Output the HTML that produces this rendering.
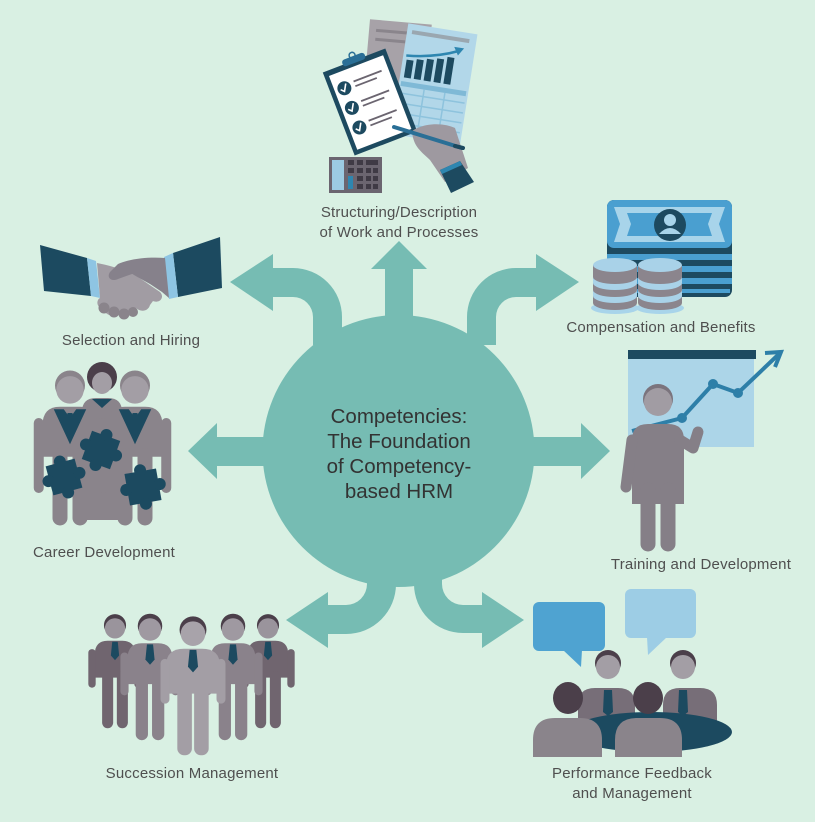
<!DOCTYPE html>
<html><head><meta charset="utf-8"><style>
html,body{margin:0;padding:0;background:#d9f0e3;}
svg{display:block;}
text{font-family:"Liberation Sans",sans-serif;}
</style></head><body>
<svg width="815" height="822" viewBox="0 0 815 822" xmlns="http://www.w3.org/2000/svg">
<rect width="815" height="822" fill="#d9f0e3"/>

<!-- ARROWS -->
<g fill="#76bcb3">
<polygon points="385,330 385,269 371,269 399,241 427,269 413,269 413,330"/>
<polygon points="270,437 217,437 217,423 188,451 217,479 217,466 270,466"/>
<polygon points="528,437 581,437 581,423 610,451 581,479 581,466 528,466"/>
<path d="M313 345 L313 317 A20 20 0 0 0 293 297 L273 297 L273 311 L230 282 L273 254 L273 268 L293 268 A49 49 0 0 1 342 317 L342 345 Z"/>
<path d="M467 345 L467 317 A49 49 0 0 1 516 268 L536 268 L536 254 L579 282 L536 311 L536 297 L516 297 A20 20 0 0 0 496 317 L496 345 Z"/>
<path d="M367 565 L367 584 A21 21 0 0 1 346 605 L328 605 L328 592 L286 620 L328 648 L328 634 L346 634 A50 50 0 0 0 396 584 L396 565 Z"/>
<path d="M414 565 L414 584 A49 49 0 0 0 463 633 L482 633 L482 648 L524 620 L482 592 L482 605 L463 605 A21 21 0 0 1 442 584 L442 565 Z"/>
<circle cx="398.5" cy="451" r="136"/>
</g>
<g font-size="20.5" fill="#333" text-anchor="middle">
<text x="399" y="423">Competencies:</text>
<text x="399" y="448">The Foundation</text>
<text x="399" y="473">of Competency-</text>
<text x="399" y="498">based HRM</text>
</g>

<!-- LABELS -->
<g font-size="15" fill="#4f4f4f" text-anchor="middle" letter-spacing="0.2">
<text x="399" y="217">Structuring/Description</text>
<text x="399" y="237">of Work and Processes</text>
<text x="661" y="332">Compensation and Benefits</text>
<text x="131" y="345">Selection and Hiring</text>
<text x="104" y="557">Career Development</text>
<text x="701" y="569">Training and Development</text>
<text x="192" y="778">Succession Management</text>
<text x="632" y="778">Performance Feedback</text>
<text x="632" y="798">and Management</text>
</g>

<!-- TOP ICON: Structuring -->
<g transform="rotate(5 400 55)">
<rect x="367" y="22" width="62" height="75" fill="#a7a2a8"/>
<rect x="374" y="31" width="40" height="3" fill="#8a858c"/>
<rect x="374" y="40" width="30" height="3" fill="#8a858c"/>
</g>
<g transform="rotate(9 433 85)">
<rect x="399" y="28" width="70" height="112" fill="#b2d7e9"/>
<rect x="404" y="34" width="58" height="4" fill="#9aa7b0"/>
<rect x="403" y="64" width="7" height="18" fill="#1d4a60"/>
<rect x="413" y="62" width="7" height="20" fill="#1d4a60"/>
<rect x="423" y="60" width="7" height="22" fill="#1d4a60"/>
<rect x="433" y="58" width="7" height="24" fill="#1d4a60"/>
<rect x="443" y="55" width="7" height="27" fill="#1d4a60"/>
<path d="M402 60 Q430 58 454 47" stroke="#2e86b0" stroke-width="2.5" fill="none"/>
<polygon points="458,44 448,44 453,52" fill="#2e86b0"/>
<rect x="401" y="86" width="66" height="5" fill="#7fb9d6"/>
<g stroke="#8ec3dd" stroke-width="1.5">
<line x1="401" y1="98" x2="467" y2="98"/><line x1="401" y1="108" x2="467" y2="108"/><line x1="401" y1="118" x2="467" y2="118"/><line x1="401" y1="128" x2="467" y2="128"/>
<line x1="425" y1="91" x2="425" y2="138"/><line x1="446" y1="91" x2="446" y2="138"/>
</g>
</g>
<g transform="rotate(-21 370 102)">
<rect x="336.5" y="57.5" width="67" height="89" fill="#1d4a60"/>
<rect x="341" y="63" width="58" height="79" fill="#ffffff"/>
<rect x="358" y="53" width="24" height="7" rx="3" fill="#2a6f96"/>
<circle cx="370" cy="52" r="3" fill="none" stroke="#2a6f96" stroke-width="1.5"/>
<circle cx="351" cy="80" r="7" fill="#1d4a60"/><circle cx="351" cy="101" r="7" fill="#1d4a60"/><circle cx="351" cy="122" r="7" fill="#1d4a60"/>
<g stroke="#fff" stroke-width="1.6" fill="none"><path d="M347 80 l3 3 l4 -7"/><path d="M347 101 l3 3 l4 -7"/><path d="M347 122 l3 3 l4 -7"/></g>
<g stroke="#6b6570" stroke-width="1.8"><line x1="362" y1="77" x2="392" y2="77"/><line x1="362" y1="82" x2="385" y2="82"/><line x1="362" y1="98" x2="392" y2="98"/><line x1="362" y1="103" x2="385" y2="103"/><line x1="362" y1="119" x2="392" y2="119"/><line x1="362" y1="124" x2="385" y2="124"/></g>
</g>
<path d="M412 131 C425 122 445 123 455 128 L468 168 L445 182 L430 160 C422 152 413 147 412 131 Z" fill="#9e99a0"/>
<line x1="394" y1="127" x2="462" y2="148" stroke="#2a6f96" stroke-width="4" stroke-linecap="round"/>
<line x1="455" y1="146" x2="463" y2="148" stroke="#1d4a60" stroke-width="4" stroke-linecap="round"/>
<polygon points="440,170 460,161 474,182 451,193" fill="#1d4a60"/>
<polygon points="440,170 460,161 462,165 442,174" fill="#2e86b0"/>
<rect x="329" y="157" width="53" height="36" fill="#6b6570"/>
<rect x="332" y="160" width="12" height="30" fill="#9ccbe3"/>
<g fill="#3f3a45">
<rect x="348" y="160" width="6" height="5"/><rect x="357" y="160" width="6" height="5"/><rect x="366" y="160" width="12" height="5"/>
<rect x="348" y="168" width="6" height="5"/><rect x="357" y="168" width="6" height="5"/><rect x="366" y="168" width="5" height="5"/><rect x="373" y="168" width="5" height="5"/>
<rect x="357" y="176" width="6" height="5"/><rect x="366" y="176" width="5" height="5"/><rect x="373" y="176" width="5" height="5"/>
<rect x="357" y="184" width="6" height="5"/><rect x="366" y="184" width="5" height="5"/><rect x="373" y="184" width="5" height="5"/>
</g>
<rect x="348" y="176" width="5" height="13" fill="#2e86b0"/>

<!-- HANDSHAKE -->
<polygon points="40,245 87,258 91,296 44,291" fill="#1c4a60"/>
<polygon points="87,258 96,261 100,298 91,296" fill="#8ec5e3"/>
<polygon points="173,253 220,237 222,288 178,297" fill="#1c4a60"/>
<polygon points="164,257 173,253 178,297 169,299" fill="#8ec5e3"/>
<path d="M97 263 C112 266 125 270 138 277 L160 292 C165 297 160 304 153 301 L150 305 C148 312 140 312 136 308 C132 316 124 318 120 314 C112 318 104 314 104 309 C96 308 96 300 100 298 Z" fill="#a19ca3"/>
<path d="M165 258 C150 257 132 258 118 264 L110 272 C106 278 112 282 118 279 L132 274 L150 284 L162 292 L169 298 Z" fill="#86818b"/>
<g fill="#8a848b"><circle cx="104" cy="308" r="5.5"/><circle cx="114" cy="312" r="5.5"/><circle cx="124" cy="314" r="5.5"/><circle cx="133" cy="312" r="5"/></g>

<!-- COMPENSATION -->
<rect x="607" y="200" width="125" height="97" rx="7" fill="#1d4a60"/>
<g fill="#4a9fd0">
<rect x="607" y="254" width="125" height="6"/>
<rect x="607" y="266" width="125" height="6"/>
<rect x="607" y="278" width="125" height="6"/>
<rect x="609" y="289" width="121" height="4"/>
</g>
<rect x="607" y="200" width="125" height="48" rx="7" fill="#4a9fd0"/>
<path d="M614 207 H725 L719 224 L725 242 H614 L620 224 Z" fill="#a8d4ea"/>
<path d="M627 213 H712 L708 224 L712 236 H627 L631 224 Z" fill="#4a9fd0"/>
<circle cx="670" cy="225" r="16" fill="#1d4a60"/>
<circle cx="670" cy="220" r="6" fill="#a8d4ea"/>
<path d="M659 234 Q670 222 681 234 Z" fill="#a8d4ea"/>
<g>
<ellipse cx="615" cy="308" rx="24" ry="6" fill="#a8d4ea"/>
<path d="M593 265 V303 A22 7 0 0 0 637 303 V265 Z" fill="#8b858d"/>
<path d="M593 277 A22 7 0 0 0 637 277 V283 A22 7 0 0 1 593 283 Z" fill="#a9d2e8"/>
<path d="M593 290 A22 7 0 0 0 637 290 V296 A22 7 0 0 1 593 296 Z" fill="#a9d2e8"/>
<ellipse cx="615" cy="265" rx="22" ry="7" fill="#a9d2e8"/>
<ellipse cx="660" cy="308" rx="24" ry="6" fill="#a8d4ea"/>
<path d="M638 265 V303 A22 7 0 0 0 682 303 V265 Z" fill="#8b858d"/>
<path d="M638 277 A22 7 0 0 0 682 277 V283 A22 7 0 0 1 638 283 Z" fill="#a9d2e8"/>
<path d="M638 290 A22 7 0 0 0 682 290 V296 A22 7 0 0 1 638 296 Z" fill="#a9d2e8"/>
<ellipse cx="660" cy="265" rx="22" ry="7" fill="#a9d2e8"/>
</g>

<!-- TRAINING -->
<rect x="628" y="350" width="128" height="9" fill="#1d4a60"/>
<rect x="628" y="359" width="126" height="88" fill="#acd5e8"/>
<polyline points="632,431 682,418 713,384 738,393 779,354" fill="none" stroke="#2e7fa8" stroke-width="4"/>
<polyline points="765,353 781,352 775,367" fill="none" stroke="#2e7fa8" stroke-width="4"/>
<g fill="#2e7fa8"><circle cx="682" cy="418" r="5"/><circle cx="713" cy="384" r="5"/><circle cx="738" cy="393" r="5"/></g>
<g fill="#857f87" stroke="#857f87" stroke-linecap="round">
<path d="M632 504 V440 Q632 424 648 424 H668 Q684 424 684 440 V504 Z" stroke="none"/>
<line x1="632" y1="440" x2="626" y2="487" stroke-width="11"/>
<polyline points="680,440 693,448 698,432" fill="none" stroke-width="11" stroke-linejoin="round"/>
<line x1="648" y1="490" x2="648" y2="544" stroke-width="15"/>
<line x1="668" y1="490" x2="668" y2="544" stroke-width="15"/>
</g>
<circle cx="658" cy="399" r="15" fill="#7b747d"/>
<circle cx="658" cy="402" r="14" fill="#a19ca3"/>

<!-- CAREER -->
<g>
<path d="M82 520 V412 Q82 398 96 398 H108 Q122 398 122 412 V520 Z" fill="#8a848b"/>
<circle cx="102" cy="377" r="15" fill="#4b3f4a"/>
<ellipse cx="102" cy="383" rx="10" ry="11" fill="#a39ea5"/>
<polygon points="92,399 102,408 112,399" fill="#1c4a60"/>
<g transform="translate(70,388) scale(1.25)">
<circle cy="-2" r="12" fill="#8a848b"/><circle cy="1.5" r="11" fill="#a39ea5"/>
<path d="M-22 55 V30 Q-22 15 -8 15 H8 Q22 15 22 30 V55 Z" fill="#8a848b"/>
<path d="M-25 28 V80" stroke="#8a848b" stroke-width="8" stroke-linecap="round"/>
<path d="M25 28 V80" stroke="#8a848b" stroke-width="8" stroke-linecap="round"/>
<rect x="-14" y="48" width="12" height="62" rx="6" fill="#8a848b"/>
<rect x="2" y="48" width="12" height="62" rx="6" fill="#8a848b"/>
<path d="M-13 17 L0 45 L13 17 L5 17 L0 24 L-5 17 Z" fill="#1c4a60"/>
<path d="M-2 20 H2 L3 34 L0 38 L-3 34 Z" fill="#1c4a60"/>
</g>
<g transform="translate(135,388) scale(1.25)">
<circle cy="-2" r="12" fill="#8a848b"/><circle cy="1.5" r="11" fill="#a39ea5"/>
<path d="M-22 55 V30 Q-22 15 -8 15 H8 Q22 15 22 30 V55 Z" fill="#8a848b"/>
<path d="M-25 28 V80" stroke="#8a848b" stroke-width="8" stroke-linecap="round"/>
<path d="M25 28 V80" stroke="#8a848b" stroke-width="8" stroke-linecap="round"/>
<rect x="-14" y="48" width="12" height="62" rx="6" fill="#8a848b"/>
<rect x="2" y="48" width="12" height="62" rx="6" fill="#8a848b"/>
<path d="M-13 17 L0 45 L13 17 L5 17 L0 24 L-5 17 Z" fill="#1c4a60"/>
<path d="M-2 20 H2 L3 34 L0 38 L-3 34 Z" fill="#1c4a60"/>
</g>
<g fill="#1c4a60">
<g transform="rotate(-15 64 477)"><rect x="49" y="462" width="30" height="30"/><circle cx="64" cy="461" r="6"/><circle cx="80" cy="477" r="6"/><circle cx="48" cy="477" r="6"/><circle cx="64" cy="493" r="6"/></g>
<g transform="rotate(20 101 450)"><rect x="86" y="435" width="30" height="30"/><circle cx="101" cy="434" r="6"/><circle cx="117" cy="450" r="6"/><circle cx="85" cy="450" r="6"/><circle cx="101" cy="466" r="6"/></g>
<g transform="rotate(-10 143 487)"><rect x="127" y="471" width="32" height="32"/><circle cx="143" cy="470" r="6"/><circle cx="160" cy="487" r="6"/><circle cx="126" cy="487" r="6"/><circle cx="143" cy="504" r="6"/></g>
</g>
</g>

<!-- SUCCESSION -->
<g transform="translate(115,627) scale(0.92)">
<circle cy="-2" r="12" fill="#4b3f4a"/><circle cy="1.5" r="11" fill="#9a949c"/>
<path d="M-22 55 V30 Q-22 15 -8 15 H8 Q22 15 22 30 V55 Z" fill="#70656f"/>
<path d="M-25 28 V62" stroke="#70656f" stroke-width="8" stroke-linecap="round"/>
<path d="M25 28 V62" stroke="#70656f" stroke-width="8" stroke-linecap="round"/>
<rect x="-14" y="48" width="12" height="62" rx="6" fill="#70656f"/><rect x="2" y="48" width="12" height="62" rx="6" fill="#70656f"/>
<path d="M-3 16 H3 L4.5 31 L0 36 L-4.5 31 Z" fill="#1c4a60"/>
</g>
<g transform="translate(268,627) scale(0.92)">
<circle cy="-2" r="12" fill="#4b3f4a"/><circle cy="1.5" r="11" fill="#9a949c"/>
<path d="M-22 55 V30 Q-22 15 -8 15 H8 Q22 15 22 30 V55 Z" fill="#70656f"/>
<path d="M-25 28 V62" stroke="#70656f" stroke-width="8" stroke-linecap="round"/>
<path d="M25 28 V62" stroke="#70656f" stroke-width="8" stroke-linecap="round"/>
<rect x="-14" y="48" width="12" height="62" rx="6" fill="#70656f"/><rect x="2" y="48" width="12" height="62" rx="6" fill="#70656f"/>
<path d="M-3 16 H3 L4.5 31 L0 36 L-4.5 31 Z" fill="#1c4a60"/>
</g>
<g transform="translate(150,628) scale(1.02)">
<circle cy="-2" r="12" fill="#4b3f4a"/><circle cy="1.5" r="11" fill="#9f99a1"/>
<path d="M-22 55 V30 Q-22 15 -8 15 H8 Q22 15 22 30 V55 Z" fill="#8a828b"/>
<path d="M-25 28 V62" stroke="#8a828b" stroke-width="8" stroke-linecap="round"/>
<path d="M25 28 V62" stroke="#8a828b" stroke-width="8" stroke-linecap="round"/>
<rect x="-14" y="48" width="12" height="62" rx="6" fill="#8a828b"/><rect x="2" y="48" width="12" height="62" rx="6" fill="#8a828b"/>
<path d="M-3 16 H3 L4.5 31 L0 36 L-4.5 31 Z" fill="#1c4a60"/>
</g>
<g transform="translate(233,628) scale(1.02)">
<circle cy="-2" r="12" fill="#4b3f4a"/><circle cy="1.5" r="11" fill="#9f99a1"/>
<path d="M-22 55 V30 Q-22 15 -8 15 H8 Q22 15 22 30 V55 Z" fill="#8a828b"/>
<path d="M-25 28 V62" stroke="#8a828b" stroke-width="8" stroke-linecap="round"/>
<path d="M25 28 V62" stroke="#8a828b" stroke-width="8" stroke-linecap="round"/>
<rect x="-14" y="48" width="12" height="62" rx="6" fill="#8a828b"/><rect x="2" y="48" width="12" height="62" rx="6" fill="#8a828b"/>
<path d="M-3 16 H3 L4.5 31 L0 36 L-4.5 31 Z" fill="#1c4a60"/>
</g>
<g transform="translate(193,632) scale(1.12)">
<circle cy="-2" r="12" fill="#4b3f4a"/><circle cy="1.5" r="11" fill="#a8a3aa"/>
<path d="M-24 55 V30 Q-24 15 -8 15 H8 Q24 15 24 30 V55 Z" fill="#a39ea5"/>
<path d="M-25 28 V60" stroke="#a39ea5" stroke-width="8" stroke-linecap="round"/>
<path d="M25 28 V60" stroke="#a39ea5" stroke-width="8" stroke-linecap="round"/>
<rect x="-14" y="48" width="13" height="62" rx="6" fill="#a39ea5"/><rect x="1" y="48" width="13" height="62" rx="6" fill="#a39ea5"/>
<path d="M-3 16 H3 L4.5 31 L0 36 L-4.5 31 Z" fill="#1c4a60"/>
</g>

<!-- PERFORMANCE -->
<rect x="533" y="602" width="72" height="49" rx="6" fill="#4fa3d1"/>
<polygon points="563,650 582,650 581,667" fill="#4fa3d1"/>
<rect x="625" y="589" width="71" height="49" rx="6" fill="#9dcde5"/>
<polygon points="647,637 667,637 648,655" fill="#9dcde5"/>
<path d="M578 730 V705 Q578 688 595 688 H618 Q635 688 635 705 V730 Z" fill="#776e78"/>
<path d="M663 730 V705 Q663 688 680 688 H700 Q717 688 717 705 V730 Z" fill="#776e78"/>
<path d="M604 690 H612 L613 712 L608 716 L603 712 Z" fill="#1c4a60"/>
<path d="M679 690 H687 L688 712 L683 716 L678 712 Z" fill="#1c4a60"/>
<circle cx="608" cy="663" r="13" fill="#4b3f4a"/><circle cx="608" cy="667" r="12" fill="#a39ea5"/>
<circle cx="683" cy="663" r="13" fill="#4b3f4a"/><circle cx="683" cy="667" r="12" fill="#a39ea5"/>
<ellipse cx="651" cy="732" rx="81" ry="20" fill="#1c4a60"/>
<path d="M533 757 V740 Q533 718 555 718 H580 Q602 718 602 740 V757 Z" fill="#8a848b"/>
<path d="M615 757 V740 Q615 718 637 718 H660 Q682 718 682 740 V757 Z" fill="#8a848b"/>
<ellipse cx="568" cy="698" rx="15" ry="16" fill="#4b3f4a"/>
<ellipse cx="648" cy="698" rx="15" ry="16" fill="#4b3f4a"/>
</svg>
</body></html>
